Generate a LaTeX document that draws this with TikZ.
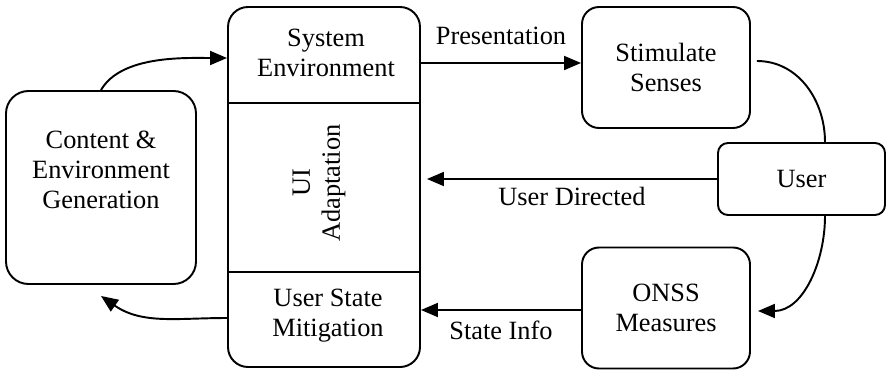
\documentclass[tikz,border=0pt]{standalone}
\usepackage{fontspec}
\setmainfont{Liberation Serif}
\usepackage{tikz}
\usetikzlibrary{shapes,arrows.meta}
\usetikzlibrary{positioning}

\begin{document}
\begin{tikzpicture}[font=\fontsize{15}{17}\selectfont, line width=1.1pt,
  every text node part/.style={align=center},
  blk/.style={draw,rounded corners=#1,minimum width=3.36cm,minimum height=2.42cm},
  blk/.default=.34cm, lbl/.style={inner sep=1pt},
  >={Triangle[length=.34cm,width=.28cm]}]

  \useasboundingbox (0,0) rectangle (17.72,7.38);

  % system block with its three parts
  \node[blk=.4cm, minimum width=3.84cm, minimum height=7.2cm] (sys) at (6.48,3.64) {};
  \coordinate (cut1) at (0,5.32);
  \coordinate (cut2) at (0,1.94);
  \draw (sys.west |- cut1) -- (sys.east |- cut1);
  \draw (sys.west |- cut2) -- (sys.east |- cut2);
  \node (sysenv) at (6.52,6.32) {System\\Environment};
  \node[rotate=90] (uiad) at (6.38,3.72) {UI\\Adaptation};
  \node (usm) at (6.56,1.06) {User State\\Mitigation};

  % generation
  \node[blk=.45cm, minimum width=3.8cm, minimum height=3.86cm] (gen) at (2.02,3.63) {};
  \node (gentxt) at (2.02,3.98) {Content \&\\Environment\\Generation};

  % right column
  \node[blk] (stim) at (13.32,6.03) {Stimulate\\Senses};
  \node[blk=.2cm, minimum width=3.34cm, minimum height=1.44cm] (user) at (16.03,3.80) {User};
  \node[blk] (onss) at (13.32,1.22) {ONSS\\Measures};

  % straight flows
  \draw[->] ([yshift=2.48cm]sys.east) -- node[lbl,above=.32cm] (pres) {Presentation}
    ([yshift=2.48cm]sys.east -| stim.west);
  \draw[->] (user.west) -- node[lbl,below=.1cm] (udir) {User Directed}
    ([xshift=.12cm]sys.east |- user.west);
  \draw[->] ([yshift=-.04cm]onss.west) -- node[lbl,below=.16cm] (sinfo) {State Info}
    ([yshift=-.04cm]sys.east |- onss.west);

  % curved flows
  \draw[->] (gen.north) to[out=60,in=180,looseness=.8] ([yshift=2.58cm]sys.west);
  \draw[->] ([yshift=-2.62cm]sys.west) to[out=180,in=-35] ([yshift=-.22cm]gen.south);
  \draw ([shift={(.12,.13)}]stim.east) to[out=0,in=90] ([xshift=.47cm]user.north);
  \draw[->] ([xshift=.47cm]user.south) to[out=-90,in=0] ([shift={(.14,-.06)}]onss.east);

\end{tikzpicture}
\end{document}
